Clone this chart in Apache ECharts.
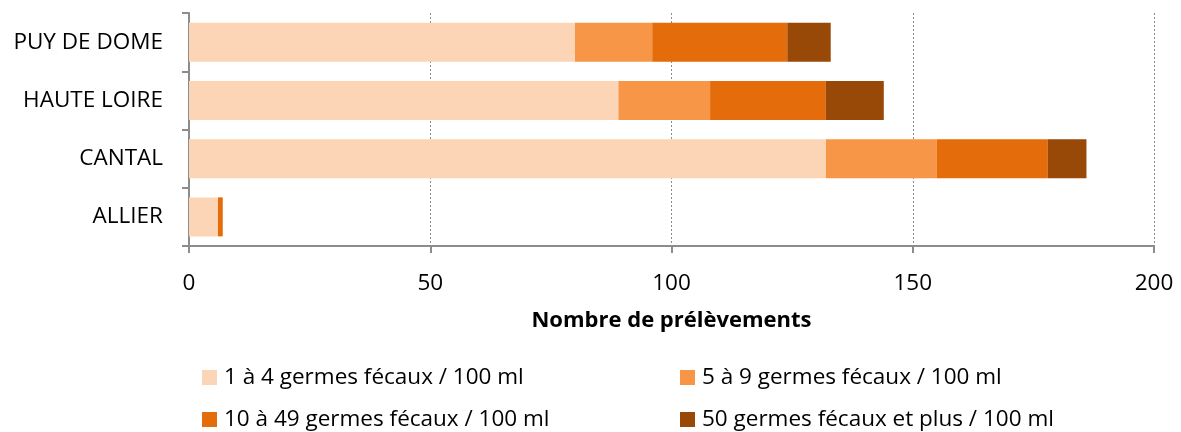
<!DOCTYPE html>
<html><head><meta charset="utf-8">
<script src="https://cdn.jsdelivr.net/npm/echarts@6/dist/echarts.min.js"></script>
<style>html,body{margin:0;padding:0;background:#fff}#c{width:1181px;height:432px}</style>
</head><body><div id="c"></div>
<script>
const categories = ['ALLIER', 'CANTAL', 'HAUTE LOIRE', 'PUY DE DOME'];
const seriesNames = ['1 à 4 germes fécaux / 100 ml', '5 à 9 germes fécaux / 100 ml', '10 à 49 germes fécaux / 100 ml', '50 germes fécaux et plus / 100 ml'];
const s1 = [6, 132, 89, 80];
const s2 = [0, 23, 19, 16];
const s3 = [1, 23, 24, 28];
const s4 = [0, 8, 12, 9];
const colors = ['#FBD5B5', '#F79646', '#E46C0A', '#984807'];
const values = [s1, s2, s3, s4];
const font = '"Open Sans", "Noto Sans", sans-serif';

const chart = echarts.init(document.getElementById('c'), null, {renderer: 'canvas'});
const legendPos = [[202, 366], [680, 366], [202, 408], [680, 408]];
chart.setOption({
  animation: false,
  grid: {left: 189, right: 27, top: 13, bottom: 186, containLabel: false},
  xAxis: {
    type: 'value', min: 0, max: 200, interval: 50,
    name: 'Nombre de prélèvements', nameLocation: 'middle', nameGap: 64,
    nameTextStyle: {fontFamily: font, fontSize: 22, fontWeight: 'bold', color: '#000'},
    axisLine: {show: true, lineStyle: {color: '#8c8c8c', width: 2}},
    axisTick: {show: true, length: 7, lineStyle: {color: '#8c8c8c', width: 2}},
    axisLabel: {fontFamily: font, fontSize: 22.5, color: '#000', margin: 26},
    splitLine: {show: true, lineStyle: {color: '#8c8c8c', type: [2, 2], width: 1}}
  },
  yAxis: {
    type: 'category', data: categories,
    axisLine: {show: true, lineStyle: {color: '#8c8c8c', width: 2}},
    axisTick: {show: true, length: 7, lineStyle: {color: '#8c8c8c', width: 2}},
    axisLabel: {fontFamily: font, fontSize: 22.5, color: '#000', margin: 26}
  },
  legend: seriesNames.map((n, i) => ({
    data: [n], left: legendPos[i][0], top: legendPos[i][1], padding: 0,
    itemWidth: 15, itemHeight: 15, itemGap: 4,
    icon: 'rect',
    textStyle: {fontFamily: font, fontSize: 22.5, color: '#000', padding: [0, 0, 0, 2]}
  })),
  series: seriesNames.map((n, i) => ({
    name: n, type: 'bar', stack: 'total', data: values[i],
    barWidth: 39,
    itemStyle: {color: colors[i]}
  }))
});
</script></body></html>
